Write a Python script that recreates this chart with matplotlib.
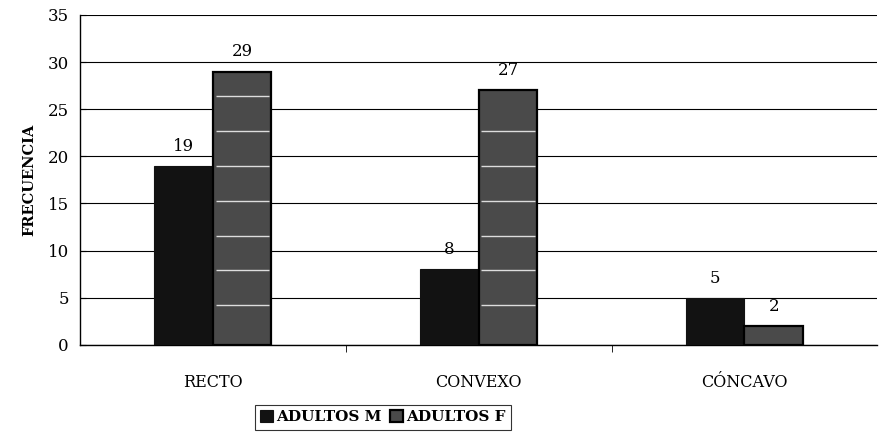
import matplotlib
matplotlib.use("Agg")
import matplotlib.pyplot as plt
import numpy as np

categorias = ["RECTO", "CONVEXO", "CÓNCAVO"]
adultos_m = [19, 8, 5]
adultos_f = [29, 27, 2]
series = ["ADULTOS M", "ADULTOS F"]

plt.rcParams["font.family"] = ["DejaVu Serif"]

fig = plt.figure(figsize=(8.8, 4.41), dpi=100)
ax = fig.add_axes([0.091, 0.218, 0.906, 0.748])

x = np.arange(len(categorias))
w = 0.22
b1 = ax.bar(x - w / 2, adultos_m, w, color="#121212", edgecolor="#121212",
            linewidth=0.8, label=series[0], zorder=3)
b2 = ax.bar(x + w / 2, adultos_f, w, color="#4a4a4a", edgecolor="black",
            linewidth=1.6, label=series[1], zorder=3)

# rayas blancas dentro de las barras F (textura)
for r in b2:
    h = r.get_height()
    ys = np.arange(0.5, h - 0.6, 3.7)[1:] if h > 3 else []
    ax.hlines(ys, r.get_x() + 0.01, r.get_x() + r.get_width() - 0.01,
              colors="#dddddd", linewidth=1.0, zorder=4)

for barras in (b1, b2):
    for r in barras:
        ax.annotate(str(int(r.get_height())),
                    (r.get_x() + r.get_width() / 2, r.get_height()),
                    xytext=(0, 8), textcoords="offset points",
                    ha="center", va="bottom", fontsize=12)

ax.set_ylim(0, 35)
ax.set_yticks(range(0, 36, 5))
ax.set_xlim(-0.5, 2.5)
ax.yaxis.grid(True, color="black", linewidth=0.8, zorder=0)
ax.set_axisbelow(True)

ax.set_xticks(x)
ax.set_xticklabels(categorias, fontsize=11.5)
ax.tick_params(axis="x", length=0, pad=21)
ax.set_xticks([0.5, 1.5], minor=True)
ax.tick_params(axis="x", which="minor", length=5, direction="out")
ax.tick_params(axis="y", labelsize=12, length=4, direction="in", pad=8)

ax.spines["top"].set_visible(False)
ax.spines["right"].set_visible(False)
ax.spines["left"].set_linewidth(1.0)
ax.spines["bottom"].set_linewidth(1.0)

ax.set_ylabel("FRECUENCIA", fontsize=10.5, fontweight="bold", labelpad=8)

leg = fig.legend(loc="center", bbox_to_anchor=(0.435, 0.054), ncol=2,
                 frameon=True, fancybox=False, edgecolor="black",
                 handlelength=0.8, handleheight=0.8, handletextpad=0.2,
                 columnspacing=0.6, borderpad=0.35,
                 prop={"weight": "bold", "size": 11})
leg.get_frame().set_linewidth(0.8)

fig.savefig("out.png", dpi=100)
